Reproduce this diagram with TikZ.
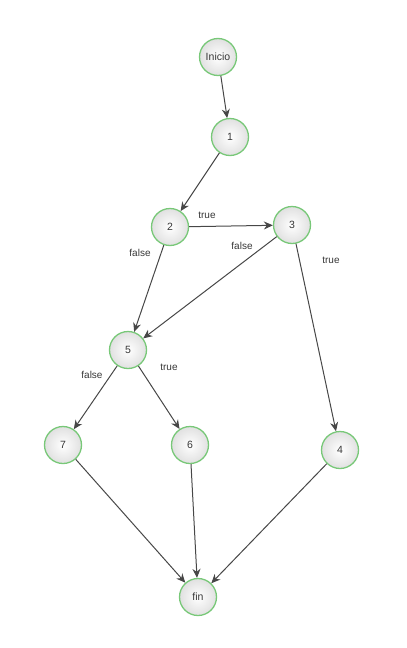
\documentclass[tikz,border=0pt]{standalone}
\usepackage{fontspec}
\setmainfont{Liberation Sans}
\usetikzlibrary{arrows.meta}
\definecolor{nodegreen}{RGB}{120,200,120}
\definecolor{txt}{RGB}{55,55,55}
\begin{document}
\begin{tikzpicture}[x=1pt,y=-1pt,
  state/.style={circle,draw=nodegreen,line width=1.3pt,minimum size=37pt,inner sep=0pt,
    inner color=white,outer color=black!12,text=txt,font=\fontsize{10.5}{12}\selectfont},
  edge/.style={draw=black!72,line width=1pt,-{Stealth[length=9pt,width=8pt]}},
  lbl/.style={text=txt,font=\fontsize{10}{12}\selectfont,inner sep=1pt}]
\useasboundingbox (0,0) rectangle (407,648);
\node[state] (ini) at (218,57) {Inicio};
\node[state] (n1) at (230,137) {1};
\node[state] (n2) at (170,227) {2};
\node[state] (n3) at (292,225) {3};
\node[state] (n5) at (128,350) {5};
\node[state] (n7) at (63,445) {7};
\node[state] (n6) at (190,445) {6};
\node[state] (n4) at (340,450) {4};
\node[state] (fin) at (198,597) {fin};
\draw[edge] (ini) -- (n1);
\draw[edge] (n1) -- (n2);
\draw[edge] (n2) -- (n3);
\draw[edge] (n2) -- (n5);
\draw[edge] (n3) -- (n5);
\draw[edge] (n3) -- (n4);
\draw[edge] (n5) -- (n7);
\draw[edge] (n5) -- (n6);
\draw[edge] (n7) -- (fin);
\draw[edge] (n6) -- (fin);
\draw[edge] (n4) -- (fin);
\node[lbl] (t23) at (207,215) {true};
\node[lbl] (f25) at (140,253) {false};
\node[lbl] (f35) at (242,246) {false};
\node[lbl] (t34) at (331,260) {true};
\node[lbl] (f57) at (92,375) {false};
\node[lbl] (t56) at (169,367) {true};
\end{tikzpicture}
\end{document}
